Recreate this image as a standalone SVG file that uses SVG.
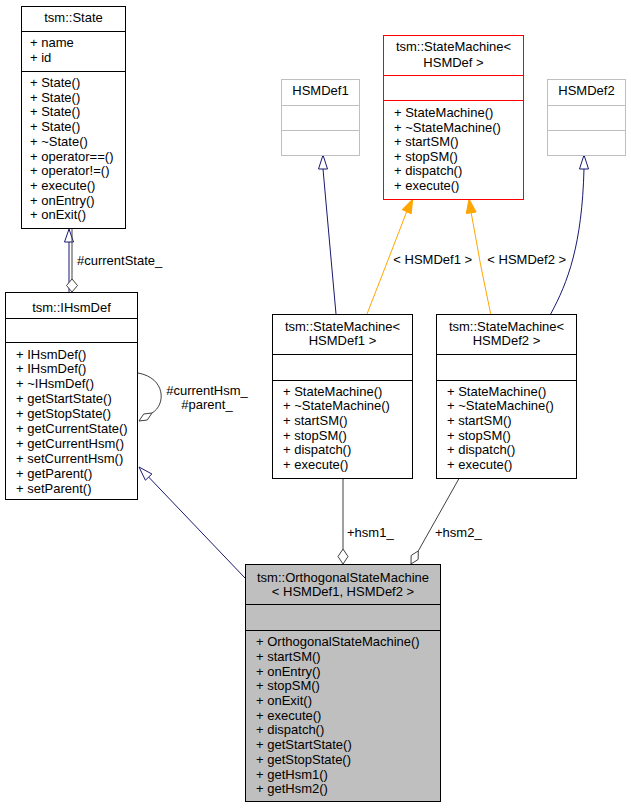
<svg xmlns="http://www.w3.org/2000/svg" width="631" height="808" viewBox="0 0 631 808">
<style>
text{font-family:"Liberation Sans",Arial,sans-serif;font-size:13px;fill:#000}
.c{text-anchor:middle}
.box{fill:#fff;stroke:#000;stroke-width:1}
.sep{stroke:#000;stroke-width:1}
.gbox{fill:#fff;stroke:#bfbfbf;stroke-width:1}
.gsep{stroke:#bfbfbf;stroke-width:1}
.rbox{fill:#fff;stroke:#ff0000;stroke-width:1}
.rsep{stroke:#ff0000;stroke-width:1}
.navy{fill:none;stroke:#191970;stroke-width:1}
.navyh{fill:#fff;stroke:#191970;stroke-width:1}
.gray{fill:none;stroke:#404040;stroke-width:1}
.grayh{fill:#fff;stroke:#404040;stroke-width:1}
.org{fill:none;stroke:#ffa500;stroke-width:1}
.orgh{fill:#ffa500;stroke:#ffa500;stroke-width:1}
</style>
<rect width="631" height="808" fill="#fff"/>

<g id="connectors">
  <!-- IHsmDef -> State inheritance -->
  <line class="navy" x1="69" y1="292" x2="69" y2="242"/>
  <polygon class="navyh" points="69,229 73.5,242 64.5,242"/>
  <!-- State -> IHsmDef composition -->
  <line class="gray" x1="72" y1="229" x2="72" y2="279"/>
  <polygon class="grayh" points="72,279 77.5,285.5 72,292 66.5,285.5"/>
  <text x="77" y="264.5">#currentState_</text>
  <!-- IHsmDef self loop -->
  <path class="gray" d="M152,413 C166,405 166,378 138,373"/>
  <polygon class="grayh" points="152,413 147.3,420 139,421 143.7,414"/>
  <text class="c" x="207" y="394.5">#currentHsm_</text>
  <text class="c" x="207" y="408.5">#parent_</text>
  <!-- Orthogonal -> IHsmDef inheritance -->
  <line class="navy" x1="148.7" y1="477.1" x2="245" y2="578"/>
  <polygon class="navyh" points="139,467 151.9,474 145.4,480.2"/>
  <!-- SM1 -> HSMDef1 -->
  <line class="navy" x1="323" y1="169" x2="336" y2="314"/>
  <polygon class="navyh" points="323,155 327.5,169 318.5,169"/>
  <!-- SM2 -> HSMDef2 -->
  <path class="navy" d="M550.7,314 C568,282 582,245 584,169"/>
  <polygon class="navyh" points="584,155 588.5,169 579.5,169"/>
  <!-- SM1 -> StateMachine<HSMDef> template -->
  <path class="org" d="M367,314 Q385,268 406.7,211.7"/>
  <polygon class="orgh" points="412.7,199 411.2,213.8 402.2,209.6"/>
  <text class="c" x="432.7" y="263.5">&lt; HSMDef1 &gt;</text>
  <!-- SM2 -> StateMachine<HSMDef> template -->
  <path class="org" d="M490.7,314 Q480,265 471.2,212.8"/>
  <polygon class="orgh" points="469,199 476.1,212 466.3,213.6"/>
  <text class="c" x="526.7" y="263.5">&lt; HSMDef2 &gt;</text>
  <!-- hsm1_ -->
  <line class="gray" x1="343" y1="478" x2="343" y2="549"/>
  <polygon class="grayh" points="343,549 348,556.5 343,564 338,556.5"/>
  <text x="347" y="536.5">+hsm1_</text>
  <!-- hsm2_ -->
  <line class="gray" x1="459.3" y1="478" x2="418.3" y2="550.9"/>
  <polygon class="grayh" points="418.3,550.9 418.15,559.4 411,564 411.15,555.5"/>
  <text x="435" y="536.5">+hsm2_</text>
</g>

<g id="State">
  <rect class="box" x="21.5" y="6.5" width="104" height="222"/>
  <line class="sep" x1="21.5" y1="31.5" x2="125.5" y2="31.5"/>
  <line class="sep" x1="21.5" y1="71.5" x2="125.5" y2="71.5"/>
  <text class="c" x="73.5" y="22">tsm::State</text>
  <text x="30" y="47">+ name</text>
  <text x="30" y="62">+ id</text>
  <text x="30" y="87">+ State()</text>
  <text x="30" y="101.7">+ State()</text>
  <text x="30" y="116.4">+ State()</text>
  <text x="30" y="131.1">+ State()</text>
  <text x="30" y="145.8">+ ~State()</text>
  <text x="30" y="160.5">+ operator==()</text>
  <text x="30" y="175.2">+ operator!=()</text>
  <text x="30" y="189.9">+ execute()</text>
  <text x="30" y="204.6">+ onEntry()</text>
  <text x="30" y="219.3">+ onExit()</text>
</g>

<g id="IHsmDef">
  <rect class="box" x="5.5" y="292.5" width="132" height="207"/>
  <line class="sep" x1="5.5" y1="318.5" x2="137.5" y2="318.5"/>
  <line class="sep" x1="5.5" y1="342.5" x2="137.5" y2="342.5"/>
  <text class="c" x="71.5" y="312">tsm::IHsmDef</text>
  <text x="16" y="358.5">+ IHsmDef()</text>
  <text x="16" y="373.4">+ IHsmDef()</text>
  <text x="16" y="388.3">+ ~IHsmDef()</text>
  <text x="16" y="403.2">+ getStartState()</text>
  <text x="16" y="418.1">+ getStopState()</text>
  <text x="16" y="433">+ getCurrentState()</text>
  <text x="16" y="447.9">+ getCurrentHsm()</text>
  <text x="16" y="462.8">+ setCurrentHsm()</text>
  <text x="16" y="477.7">+ getParent()</text>
  <text x="16" y="492.6">+ setParent()</text>
</g>

<g id="HSMDef1">
  <rect class="gbox" x="281.5" y="79.5" width="78" height="76"/>
  <line class="gsep" x1="281.5" y1="105.5" x2="359.5" y2="105.5"/>
  <line class="gsep" x1="281.5" y1="130.5" x2="359.5" y2="130.5"/>
  <text class="c" x="320.5" y="95">HSMDef1</text>
</g>

<g id="StateMachineTemplate">
  <rect class="rbox" x="383.5" y="35.5" width="140" height="164"/>
  <line class="rsep" x1="383.5" y1="75.5" x2="523.5" y2="75.5"/>
  <line class="rsep" x1="383.5" y1="100.5" x2="523.5" y2="100.5"/>
  <text class="c" x="453.5" y="51">tsm::StateMachine&lt;</text>
  <text class="c" x="453.5" y="66.5">HSMDef &gt;</text>
  <text x="394" y="117">+ StateMachine()</text>
  <text x="394" y="131.5">+ ~StateMachine()</text>
  <text x="394" y="146">+ startSM()</text>
  <text x="394" y="160.5">+ stopSM()</text>
  <text x="394" y="175">+ dispatch()</text>
  <text x="394" y="189.5">+ execute()</text>
</g>

<g id="HSMDef2">
  <rect class="gbox" x="547.5" y="79.5" width="78" height="76"/>
  <line class="gsep" x1="547.5" y1="105.5" x2="625.5" y2="105.5"/>
  <line class="gsep" x1="547.5" y1="130.5" x2="625.5" y2="130.5"/>
  <text class="c" x="586.5" y="95">HSMDef2</text>
</g>

<g id="StateMachine_HSMDef1">
  <rect class="box" x="272.5" y="314.5" width="140" height="164"/>
  <line class="sep" x1="272.5" y1="354.5" x2="412.5" y2="354.5"/>
  <line class="sep" x1="272.5" y1="380.5" x2="412.5" y2="380.5"/>
  <text class="c" x="342.5" y="331">tsm::StateMachine&lt;</text>
  <text class="c" x="342.5" y="345">HSMDef1 &gt;</text>
  <text x="283" y="395.5">+ StateMachine()</text>
  <text x="283" y="410.2">+ ~StateMachine()</text>
  <text x="283" y="424.8">+ startSM()</text>
  <text x="283" y="439.5">+ stopSM()</text>
  <text x="283" y="454.1">+ dispatch()</text>
  <text x="283" y="468.8">+ execute()</text>
</g>

<g id="StateMachine_HSMDef2">
  <rect class="box" x="436.5" y="314.5" width="140" height="164"/>
  <line class="sep" x1="436.5" y1="354.5" x2="576.5" y2="354.5"/>
  <line class="sep" x1="436.5" y1="380.5" x2="576.5" y2="380.5"/>
  <text class="c" x="506.5" y="331">tsm::StateMachine&lt;</text>
  <text class="c" x="506.5" y="345">HSMDef2 &gt;</text>
  <text x="447" y="395.5">+ StateMachine()</text>
  <text x="447" y="410.2">+ ~StateMachine()</text>
  <text x="447" y="424.8">+ startSM()</text>
  <text x="447" y="439.5">+ stopSM()</text>
  <text x="447" y="454.1">+ dispatch()</text>
  <text x="447" y="468.8">+ execute()</text>
</g>

<g id="OrthogonalStateMachine">
  <rect x="245.5" y="564.5" width="195" height="237" fill="#bfbfbf" stroke="#000" stroke-width="1"/>
  <line class="sep" x1="245.5" y1="604.5" x2="440.5" y2="604.5"/>
  <line class="sep" x1="245.5" y1="630.5" x2="440.5" y2="630.5"/>
  <text class="c" x="343" y="582">tsm::OrthogonalStateMachine</text>
  <text class="c" x="343" y="596">&lt; HSMDef1, HSMDef2 &gt;</text>
  <text x="256" y="646">+ OrthogonalStateMachine()</text>
  <text x="256" y="660.7">+ startSM()</text>
  <text x="256" y="675.5">+ onEntry()</text>
  <text x="256" y="690.2">+ stopSM()</text>
  <text x="256" y="704.9">+ onExit()</text>
  <text x="256" y="719.7">+ execute()</text>
  <text x="256" y="734.4">+ dispatch()</text>
  <text x="256" y="749.1">+ getStartState()</text>
  <text x="256" y="763.8">+ getStopState()</text>
  <text x="256" y="778.6">+ getHsm1()</text>
  <text x="256" y="793.3">+ getHsm2()</text>
</g>
</svg>
